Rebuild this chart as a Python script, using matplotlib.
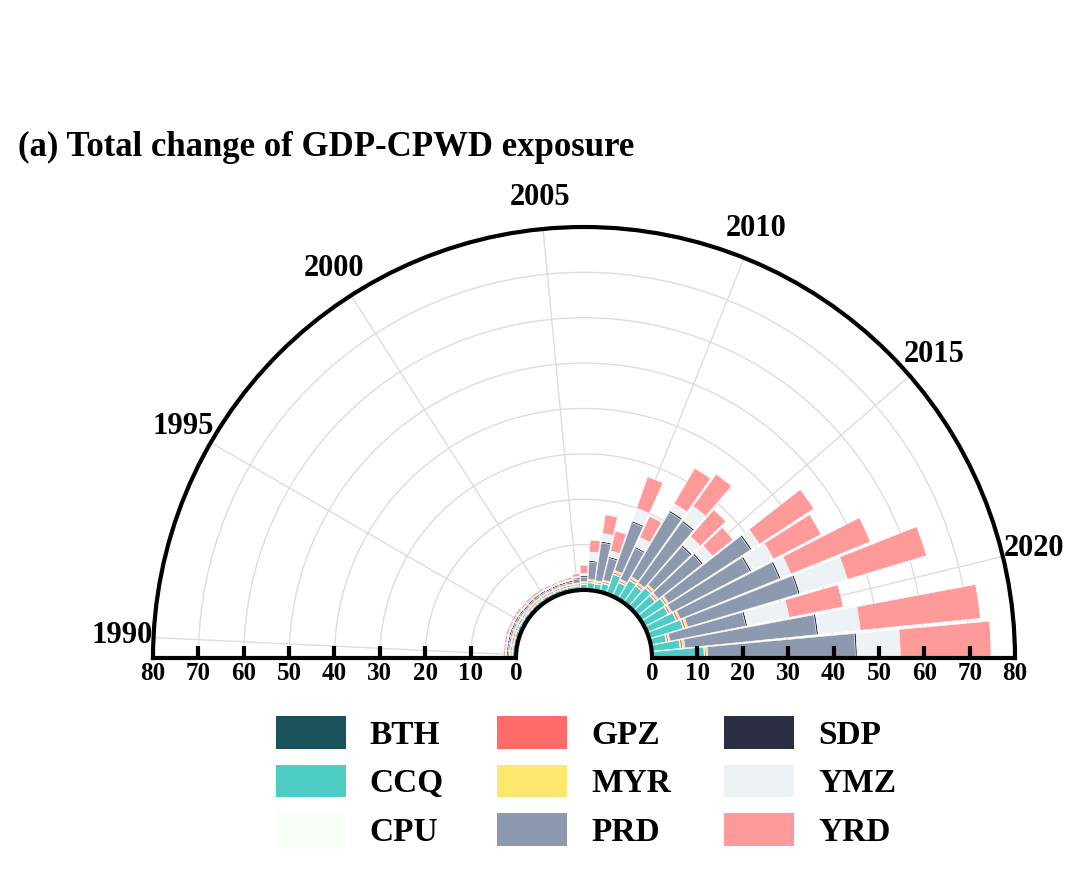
import numpy as np
import matplotlib
matplotlib.use("Agg")
import matplotlib.pyplot as plt
from matplotlib.patches import Patch

plt.rcParams['font.family'] = ['Liberation Serif', 'DejaVu Serif']
plt.rcParams['font.weight'] = 'bold'

years = list(range(1990, 2023))
regions = ['BTH', 'CCQ', 'CPU', 'GPZ', 'MYR', 'PRD', 'SDP', 'YMZ', 'YRD']
colors = ['#1A535C', '#4ECDC4', '#F7FFF7', '#FF6B6B', '#FFE66D',
          '#8D99AE', '#2B2D42', '#EDF2F4', '#FF9A9A']

# values per region, 1990..2022
BTH = [0.30, 0.30, 0.30, 0.35, 0.30, 0.30, 0.35, 0.30, 0.30, 0.30, 0.35, 0.30, 0.30, 0.30, 0.30, 0.30,
       0.30, 0.30, 0.30, 0.30, 0.30, 0.30, 0.30, 0.30, 0.30, 0.30, 0.30, 0.30, 0.30, 0.30, 0.30, 0.30, 0.30]
CCQ = [0.50, 0.50, 0.45, 0.50, 0.55, 0.50, 0.50, 0.45, 0.50, 0.50, 0.50, 0.45, 0.50, 0.50, 0.55, 0.60,
       0.90, 1.30, 1.20, 1.60, 4.20, 3.00, 4.50, 4.20, 5.20, 4.70, 6.00, 5.60, 6.60, 7.50, 3.20, 6.00, 11.20]
CPU = [0.15] * 33
GPZ = [0.30, 0.30, 0.35, 0.30, 0.30, 0.35, 0.30, 0.30, 0.30, 0.30, 0.30, 0.30, 0.30, 0.30, 0.30, 0.30,
       0.25, 0.30, 0.30, 0.35, 0.40, 0.35, 0.40, 0.40, 0.40, 0.40, 0.40, 0.40, 0.45, 0.45, 0.35, 0.45, 0.30]
MYR = [0.25, 0.25, 0.25, 0.25, 0.25, 0.25, 0.25, 0.25, 0.25, 0.25, 0.25, 0.25, 0.25, 0.25, 0.25, 0.25,
       0.25, 0.30, 0.30, 0.30, 0.40, 0.35, 0.40, 0.40, 0.40, 0.40, 0.40, 0.40, 0.40, 0.45, 0.35, 0.45, 0.30]
PRD = [0.30, 0.30, 0.35, 0.40, 0.35, 0.40, 0.35, 0.30, 0.35, 0.40, 0.35, 0.30, 0.30, 0.35, 0.40, 0.80,
       1.00, 3.80, 8.40, 4.95, 11.20, 7.50, 16.45, 16.45, 11.15, 12.15, 21.45, 19.35, 23.50, 25.45, 16.95, 29.15, 32.55]
SDP = [0.30] * 16 + [0.30, 0.35, 0.35, 0.35, 0.35, 0.35, 0.40, 0.40, 0.40, 0.40, 0.40, 0.40, 0.40, 0.40, 0.40, 0.40, 0.40]
YMZ = [0.30, 0.30, 0.30, 0.30, 0.30, 0.30, 0.30, 0.30, 0.30, 0.30, 0.30, 0.30, 0.30, 0.30, 0.30, 0.30,
       0.50, 1.90, 1.80, 1.30, 3.00, 2.30, 1.80, 3.90, 2.60, 2.60, 2.00, 5.50, 2.40, 10.90, 9.40, 9.30, 9.50]
YRD = [0.40, 0.35, 0.40, 0.40, 0.35, 0.40, 0.45, 0.35, 0.40, 0.40, 0.35, 0.35, 0.30, 0.35, 0.40, 0.60,
       1.80, 2.60, 4.10, 4.50, 7.30, 5.10, 9.00, 8.70, 7.80, 5.80, 14.30, 11.80, 18.90, 18.20, 12.10, 26.60, 20.00]

series = [BTH, CCQ, CPU, GPZ, MYR, PRD, SDP, YMZ, YRD]
tick_years = [1990, 1995, 2000, 2005, 2010, 2015, 2020]
r_ticks = [0, 10, 20, 30, 40, 50, 60, 70, 80]

W, H = 1080, 891
fig = plt.figure(figsize=(W / 100, H / 100), dpi=100)
ax = fig.add_axes([153 / W, 0.0, 862 / W, 862 / H], projection='polar')
ax.set_thetamin(0)
ax.set_thetamax(180)
ax.set_rorigin(-15)
ax.set_ylim(0, 80)
ax.set_axisbelow(True)

n = len(years)
step = np.pi / n
theta = np.pi - (np.arange(n) + 0.5) * step

bottom = np.zeros(n)
for name, vals, col in zip(regions, series, colors):
    v = np.array(vals)
    ax.bar(theta, v, width=step * 0.9, bottom=bottom, color=col,
           edgecolor='white', linewidth=0.35, zorder=2, align='center')
    bottom += v

# grid
tick_theta = [np.pi - (years.index(y) + 0.5) * step for y in tick_years]
ax.set_xticks(tick_theta)
ax.set_xticklabels([])
ax.set_yticks([10, 20, 30, 40, 50, 60, 70])
ax.set_yticklabels([])
ax.grid(True, color='#dddddd', linewidth=1.0)
ax.tick_params(axis='x', direction='in', length=13, width=3, color='black')
ax.tick_params(axis='y', length=0)
for sp in ax.spines.values():
    sp.set_linewidth(3)
    sp.set_color('black')
    sp.set_zorder(4)

# fit the half disc to its place in the figure: outer left x=153, right x=1015, base y=658
target_l, target_r, target_base = 153, 1015, H - 658
for _ in range(3):
    fig.canvas.draw()
    xl, yb = ax.transData.transform((np.pi, 80))
    xr, _y = ax.transData.transform((0.0, 80))
    s = (target_r - target_l) / (xr - xl)
    pos = ax.get_position()
    bw, bh = pos.width * W, pos.height * H
    x0 = pos.x0 * W
    y0 = pos.y0 * H
    new_x0 = target_l - (xl - x0) * s
    new_y0 = target_base - (yb - y0) * s
    ax.set_position([new_x0 / W, new_y0 / H, bw * s / W, bh * s / H])

for y, t in zip(tick_years, tick_theta):
    ax.text(t, 87, str(y), ha='center', va='center', fontsize=22,
            fontweight='bold', clip_on=False)

for r in r_ticks:
    for t in (0.0, np.pi):
        ax.annotate(str(r), xy=(t, r), xytext=(0, -3), textcoords='offset points',
                    ha='center', va='top', fontsize=18, fontweight='bold',
                    annotation_clip=False)
        if 0 < r < 80:
            ax.plot([t], [r], marker=2, markersize=9, markeredgewidth=3,
                    color='black', clip_on=False, zorder=5)

fig.text(18 / W, 1 - 156 / H, '(a) Total change of GDP-CPWD exposure',
         fontsize=25, fontweight='bold', ha='left', va='baseline')

handles = [Patch(facecolor=c, edgecolor='none', label=l) for l, c in zip(regions, colors)]
fig.legend(handles=handles, ncol=3, loc='center', bbox_to_anchor=(586 / W, 1 - 782 / H),
           frameon=False, prop={'size': 24, 'weight': 'bold'},
           handlelength=2.1, handleheight=1.13, handletextpad=0.72,
           columnspacing=1.6, labelspacing=0.42)

fig.savefig('out.png', dpi=100)
